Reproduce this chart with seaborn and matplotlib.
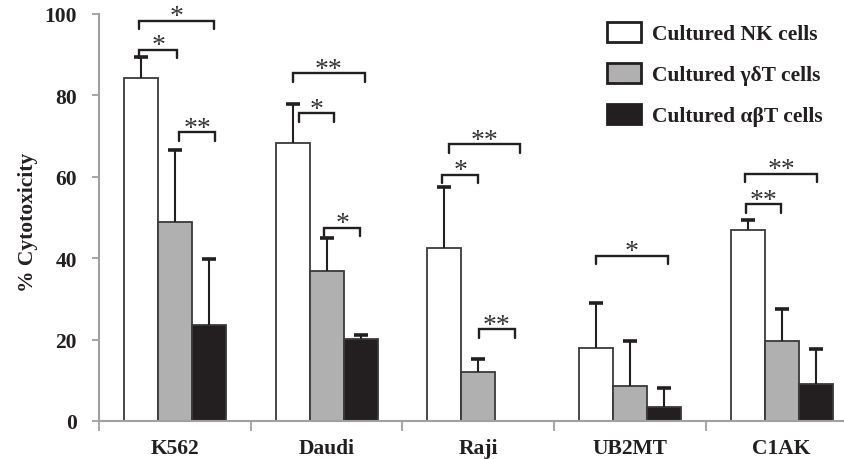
import numpy as np
import pandas as pd
import matplotlib
matplotlib.use("Agg")
import matplotlib.pyplot as plt
from matplotlib.patches import Patch
from matplotlib.ticker import FixedLocator
import seaborn as sns

# ---- data ----
targets = ["K562", "Daudi", "Raji", "UB2MT", "C1AK"]
cell_types = ["Cultured NK cells", "Cultured \u03b3\u03b4T cells", "Cultured \u03b1\u03b2T cells"]
nk_mean = [84.3, 68.3, 42.5, 18.0, 46.9]
nk_err = [5.1, 9.7, 15.0, 10.9, 2.4]
gd_mean = [48.8, 36.9, 12.0, 8.5, 19.7]
gd_err = [17.8, 8.1, 3.3, 11.2, 7.8]
ab_mean = [23.5, 20.1, np.nan, 3.4, 9.0]
ab_err = [16.4, 1.0, np.nan, 4.8, 8.6]
y_ticks = [0, 20, 40, 60, 80, 100]
# significance brackets: (target index, left end, right end (offsets from group centre), height, label)
brackets = [
    (0, -0.236, 0.258, 98.4, "*"), (0, -0.236, 0.016, 91.2, "*"), (0, 0.029, 0.264, 70.9, "**"),
    (1, -0.221, 0.252, 85.5, "**"), (1, -0.181, 0.049, 75.6, "*"), (1, -0.016, 0.223, 47.5, "*"),
    (2, -0.192, 0.274, 68.0, "**"), (2, -0.236, 0.001, 60.5, "*"), (2, 0.003, 0.241, 22.5, "**"),
    (3, -0.223, 0.250, 40.6, "*"),
    (4, -0.241, 0.236, 60.7, "**"), (4, -0.236, -0.005, 53.3, "**"),
]

means = [nk_mean, gd_mean, ab_mean]
errs = [nk_err, gd_err, ab_err]
rows = []
for ci, ct in enumerate(cell_types):
    for ti, t in enumerate(targets):
        rows.append({"target": t, "cell": ct, "value": means[ci][ti]})
df = pd.DataFrame(rows)

sns.set_theme(style="white")
plt.rcParams["font.family"] = ["Liberation Serif", "DejaVu Serif"]
plt.rcParams["font.weight"] = "bold"

W, H = 845, 460
fig = plt.figure(figsize=(W / 100, H / 100), dpi=100)
ax = fig.add_axes([99 / W, (H - 422) / H, 758.5 / W, 407 / H])

fills = ["#ffffff", "#b0b0b0", "#231f20"]
edge = "#3a3a3a"
total_w = 0.672
bw = total_w / 3

sns.barplot(data=df, x="target", y="value", hue="cell", order=targets,
            hue_order=cell_types, palette=fills, width=total_w, gap=0,
            edgecolor=edge, linewidth=1.3, errorbar=None, legend=False,
            saturation=1, ax=ax)

# error bars (upper only)
for ci in range(3):
    xs = np.arange(len(targets)) + (ci - 1) * bw
    m = np.array(means[ci], dtype=float)
    e = np.array(errs[ci], dtype=float)
    ok = ~np.isnan(m)
    eb = ax.errorbar(xs[ok], m[ok], yerr=[np.zeros(ok.sum()), e[ok]], fmt="none",
                     ecolor="#231f20", elinewidth=1.5, capsize=5, capthick=2.6, zorder=3)
    caps = eb[1]
    if len(caps) == 2:
        caps[0].set_visible(False)

# brackets
drop = 2.1
for ti, o1, o2, yb, lab in brackets:
    x1 = ti + o1
    x2 = ti + o2
    ax.plot([x1, x1, x2, x2], [yb - drop, yb, yb, yb - drop], color="#231f20",
            lw=1.7, solid_joinstyle="miter", zorder=4, clip_on=False)
    ax.text((x1 + x2) / 2, yb - 2.1, lab, ha="center", va="bottom", fontsize=20,
            fontweight="normal", color="#333333", zorder=4)

ax.set_xlim(-0.5, len(targets) - 0.5)
ax.set_ylim(0, 100)
ax.set_yticks(y_ticks)
ax.set_yticklabels([str(v) for v in y_ticks], fontsize=15.5, fontweight="bold")
ax.set_xticks(range(len(targets)))
ax.set_xticklabels(targets, fontsize=15.5, fontweight="bold")
ax.xaxis.set_minor_locator(FixedLocator(np.arange(-0.5, len(targets), 1.0)))
ax.tick_params(axis="x", which="major", length=0, pad=12)
ax.tick_params(axis="x", which="minor", length=7, width=1.3, color="#a0a0a0", direction="out", bottom=True)
ax.tick_params(axis="y", which="major", length=5, width=1.3, color="#a0a0a0", direction="out", left=True, pad=11)
for s in ["top", "right"]:
    ax.spines[s].set_visible(False)
for s in ["left", "bottom"]:
    ax.spines[s].set_color("#a0a0a0")
    ax.spines[s].set_linewidth(1.5)
ax.set_xlabel("")
ax.set_ylabel("% Cytotoxicity", fontsize=15.5, fontweight="bold", color="#231f20")
ax.yaxis.set_label_coords(-0.08, 0.49)
for lbl in ax.get_xticklabels() + ax.get_yticklabels():
    lbl.set_color("#231f20")

handles = [Patch(facecolor=fills[k], edgecolor="#231f20", linewidth=2) for k in range(3)]
leg = fig.legend(handles, cell_types, loc="upper left",
                 bbox_to_anchor=(607 / W, 1 - 23 / H), frameon=False,
                 prop={"family": ["Liberation Serif"], "weight": "bold", "size": 15.5},
                 handlelength=1.6, handleheight=1.05, handletextpad=0.5,
                 labelspacing=0.87, borderpad=0, borderaxespad=0)
for t in leg.get_texts():
    t.set_color("#231f20")

fig.savefig("out.png", dpi=100)
